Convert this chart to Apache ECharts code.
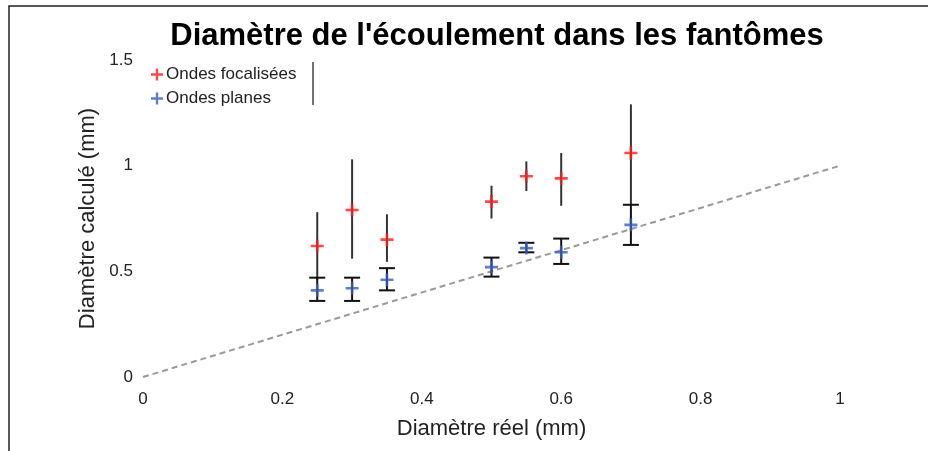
<!DOCTYPE html>
<html>
<head>
<meta charset="utf-8">
<script src="https://cdn.jsdelivr.net/npm/echarts@6/dist/echarts.min.js"></script>
<style>html,body{margin:0;padding:0;background:#fff;}#c{width:933px;height:451px;}</style>
</head>
<body>
<div id="c"></div>
<script>
// Data
var xReal = [0.25, 0.3, 0.35, 0.5, 0.55, 0.6, 0.7];
var focalVals = [0.62, 0.79, 0.65, 0.83, 0.95, 0.94, 1.06];
var focalLow = [0.46, 0.56, 0.545, 0.75, 0.88, 0.81, 0.815];
var focalHigh = [0.78, 1.03, 0.77, 0.905, 1.02, 1.06, 1.29];
var planeVals = [0.41, 0.42, 0.46, 0.52, 0.61, 0.59, 0.72];
var planeLow = [0.36, 0.36, 0.41, 0.475, 0.59, 0.535, 0.625];
var planeHigh = [0.47, 0.47, 0.515, 0.565, 0.635, 0.655, 0.815];
var refLine = [[0, 0], [1, 1]];
var seriesNames = ['Ondes focalisées', 'Ondes planes'];
var titleText = "Diamètre de l'écoulement dans les fantômes";
var xName = 'Diamètre réel (mm)';
var yName = 'Diamètre calculé (mm)';

var plus = 'path://M4,0h2v4h4v2h-4v4h-2v-4h-4v-2h4z';
var font = '"Liberation Sans", Arial, sans-serif';

function errData(lo, hi) {
  return xReal.map(function (x, i) { return [x, lo[i], hi[i]]; });
}
function errRender(withCaps, color) {
  return function (params, api) {
    var x = api.value(0);
    var p1 = api.coord([x, api.value(1)]);
    var p2 = api.coord([x, api.value(2)]);
    var st = { stroke: color, lineWidth: 2 };
    var children = [{ type: 'line', shape: { x1: p1[0], y1: p1[1], x2: p2[0], y2: p2[1] }, style: st }];
    if (withCaps) {
      var w = 8;
      children.push({ type: 'line', shape: { x1: p1[0] - w, y1: p1[1], x2: p1[0] + w, y2: p1[1] }, style: st });
      children.push({ type: 'line', shape: { x1: p2[0] - w, y1: p2[1], x2: p2[0] + w, y2: p2[1] }, style: st });
    }
    return { type: 'group', children: children };
  };
}

var chart = echarts.init(document.getElementById('c'), null, { renderer: 'canvas' });
chart.setOption({
  backgroundColor: '#fff',
  animation: false,
  title: {
    text: titleText, left: 492, textAlign: 'center', top: 16,
    textStyle: { fontFamily: font, fontSize: 31, fontWeight: 'bold', color: '#000' }
  },
  legend: {
    orient: 'vertical', left: 146, top: 61, itemGap: 7,
    itemWidth: 12, itemHeight: 12,
    data: [
      { name: seriesNames[0], icon: plus, itemStyle: { color: '#ff1a1a' } },
      { name: seriesNames[1], icon: plus, itemStyle: { color: '#3a5cc0' } }
    ],
    textStyle: { fontFamily: font, fontSize: 17, color: '#222', padding: [0, 0, 0, -2] }
  },
  grid: { left: 143, right: 93, top: 60, bottom: 74 },
  xAxis: {
    type: 'value', min: 0, max: 1, interval: 0.2,
    name: xName, nameLocation: 'middle', nameGap: 41,
    nameTextStyle: { fontFamily: font, fontSize: 22, color: '#222' },
    axisLine: { show: false }, axisTick: { show: false }, splitLine: { show: false },
    axisLabel: { fontFamily: font, fontSize: 17, color: '#222', margin: 14 }
  },
  yAxis: {
    type: 'value', min: 0, max: 1.5, interval: 0.5,
    name: yName, nameLocation: 'middle', nameGap: 42,
    nameTextStyle: { fontFamily: font, fontSize: 22, color: '#222' },
    axisLine: { show: false }, axisTick: { show: false }, splitLine: { show: false },
    axisLabel: { fontFamily: font, fontSize: 17, color: '#222', margin: 10 }
  },
  graphic: [
    { type: 'polyline', shape: { points: [[9, 451], [9, 6], [928, 6]] }, style: { stroke: '#222', lineWidth: 1.5, fill: null } },
    { type: 'line', shape: { x1: 313, y1: 62, x2: 313, y2: 105 }, style: { stroke: '#444', lineWidth: 1.5 } }
  ],
  series: [
    {
      type: 'line', data: refLine, symbol: 'none', silent: true,
      lineStyle: { color: '#999', width: 2, type: [6, 4] }, z: 1
    },
    {
      type: 'custom', data: errData(focalLow, focalHigh), renderItem: errRender(false, '#333'), z: 2, silent: true
    },
    {
      type: 'custom', data: errData(planeLow, planeHigh), renderItem: errRender(true, '#111'), z: 2, silent: true
    },
    {
      name: seriesNames[0], type: 'scatter', symbol: plus, symbolSize: 13,
      itemStyle: { color: '#ff1a1a' }, z: 5,
      data: xReal.map(function (x, i) { return [x, focalVals[i]]; })
    },
    {
      name: seriesNames[1], type: 'scatter', symbol: plus, symbolSize: 13,
      itemStyle: { color: '#3a5cc0' }, z: 5,
      data: xReal.map(function (x, i) { return [x, planeVals[i]]; })
    }
  ]
});
</script>
</body>
</html>
